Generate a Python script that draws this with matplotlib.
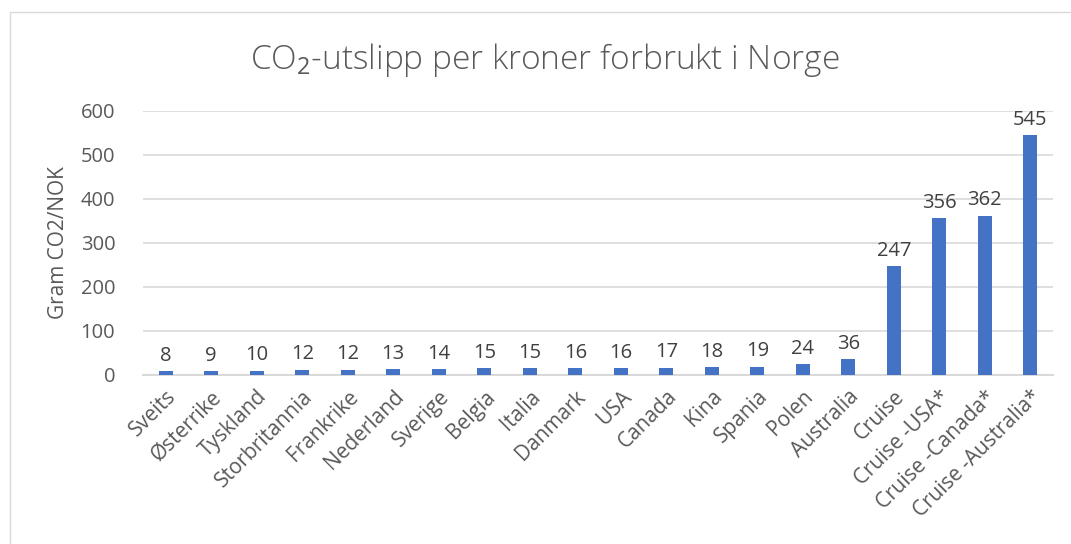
import matplotlib
matplotlib.use('Agg')
import matplotlib.pyplot as plt
from matplotlib.patches import Rectangle

countries = ['Sveits', 'Østerrike', 'Tyskland', 'Storbritannia', 'Frankrike',
             'Nederland', 'Sverige', 'Belgia', 'Italia', 'Danmark', 'USA',
             'Canada', 'Kina', 'Spania', 'Polen', 'Australia', 'Cruise',
             'Cruise -USA*', 'Cruise -Canada*', 'Cruise -Australia*']
values = [8, 9, 10, 12, 12, 13, 14, 15, 15, 16, 16, 17, 18, 19, 24, 36,
          247, 356, 362, 545]
yticks = [0, 100, 200, 300, 400, 500, 600]

text_col = '#595959'
bar_col = '#4472C4'
grid_col = '#d9d9d9'

plt.rcParams['font.family'] = ['Open Sans', 'DejaVu Sans']
plt.rcParams['mathtext.fontset'] = 'custom'
plt.rcParams['mathtext.rm'] = 'Open Sans'
plt.rcParams['mathtext.it'] = 'Open Sans'

fig = plt.figure(figsize=(10.71, 5.44), dpi=100)
ax = fig.add_axes([143 / 1071, 1 - 375 / 544, (1053 - 143) / 1071, (375 - 111) / 544])

x = range(len(countries))
bars = ax.bar(x, values, width=0.31, color=bar_col, zorder=3)
for xi, v in zip(x, values):
    ax.text(xi, v + 12, str(v), ha='center', va='bottom', fontsize=14.5,
            color='#404040')

ax.set_xlim(-0.5, len(countries) - 0.5)
ax.set_ylim(0, 600)
ax.set_yticks(yticks)
ax.set_xticks(list(x))
ax.set_xticklabels(countries, rotation=45, ha='right', rotation_mode='anchor',
                   fontsize=15, color=text_col)
ax.tick_params(axis='y', labelsize=14.5, colors=text_col, length=0, pad=20)
ax.tick_params(axis='x', length=0, pad=8)
ax.yaxis.grid(True, color=grid_col, linewidth=1.2, zorder=0)
for s in ['top', 'right', 'left']:
    ax.spines[s].set_visible(False)
ax.spines['bottom'].set_color(grid_col)
ax.spines['bottom'].set_linewidth(1.5)

ax.set_ylabel('Gram CO2/NOK', fontsize=15, color=text_col, labelpad=8)

fig.text(545 / 1071, 1 - 60 / 544, 'CO$_2$-utslipp per kroner forbrukt i Norge',
         ha='center', va='center', fontsize=24, color=text_col, fontweight='light')

fig.patches.append(Rectangle((10 / 1071, -0.01), 1.0, 1 - 12 / 544 + 0.01,
                             transform=fig.transFigure, fill=False,
                             edgecolor=grid_col, linewidth=1))

fig.savefig('out.png', dpi=100)
